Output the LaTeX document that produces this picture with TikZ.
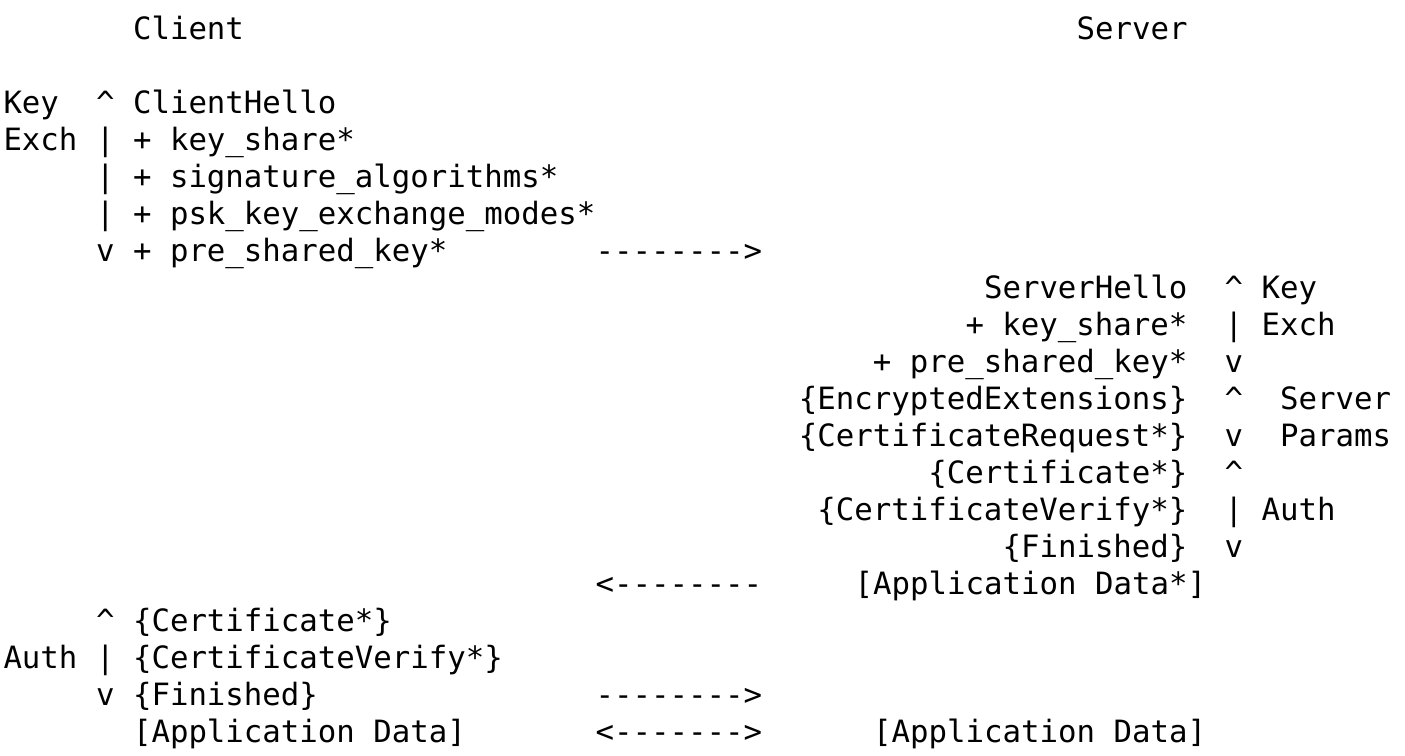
\documentclass[tikz,border=0pt]{standalone}
\usepackage{fontspec}
\setmonofont{DejaVu Sans Mono}
\begin{document}
\begin{tikzpicture}[
  x=18.5pt, y=-37pt,
  tt/.style={anchor=base west, inner sep=0pt, outer sep=0pt, text=black,
    font=\ttfamily\fontsize{30.73pt}{37pt}\selectfont},
  ttr/.style={tt, anchor=base east}]
\fill[white] (-3.5pt,39pt) rectangle (1401.5pt,-716pt);
\useasboundingbox (-3.5pt,39pt) rectangle (1401.5pt,-716pt);
% header
\node[tt] (client) at (7,0) {Client};
\node[tt] (server) at (58,0) {Server};
% client key exchange
\node[tt] (ckey) at (0,2) {Key};
\node[tt] (cka) at (5,2) {\textasciicircum};
\node[tt] (chello) at (7,2) {ClientHello};
\node[tt] (cexch) at (0,3) {Exch};
\node[tt] (ckb) at (5,3) {|};
\node[tt] (cks) at (7,3) {+ key\_share*};
\node[tt] (ckc) at (5,4) {|};
\node[tt] (csig) at (7,4) {+ signature\_algorithms*};
\node[tt] (ckd) at (5,5) {|};
\node[tt] (cpsk) at (7,5) {+ psk\_key\_exchange\_modes*};
\node[tt] (cke) at (5,6) {v};
\node[tt] (cpre) at (7,6) {+ pre\_shared\_key*};
\node[tt] (arr1) at (32,6) {-------->};
% server key exchange
\node[ttr] (shello) at (64,7) {ServerHello};
\node[tt] (ska) at (66,7) {\textasciicircum};
\node[tt] (skey) at (68,7) {Key};
\node[ttr] (sks) at (64,8) {+ key\_share*};
\node[tt] (skb) at (66,8) {|};
\node[tt] (sexch) at (68,8) {Exch};
\node[ttr] (spre) at (64,9) {+ pre\_shared\_key*};
\node[tt] (skc) at (66,9) {v};
% server params
\node[ttr] (senc) at (64,10) {\{EncryptedExtensions\}};
\node[tt] (spa) at (66,10) {\textasciicircum};
\node[tt] (sserv) at (69,10) {Server};
\node[ttr] (sreq) at (64,11) {\{CertificateRequest*\}};
\node[tt] (spb) at (66,11) {v};
\node[tt] (sparams) at (69,11) {Params};
% server auth
\node[ttr] (scert) at (64,12) {\{Certificate*\}};
\node[tt] (saa) at (66,12) {\textasciicircum};
\node[ttr] (sver) at (64,13) {\{CertificateVerify*\}};
\node[tt] (sab) at (66,13) {|};
\node[tt] (sauth) at (68,13) {Auth};
\node[ttr] (sfin) at (64,14) {\{Finished\}};
\node[tt] (sac) at (66,14) {v};
\node[tt] (arr2) at (32,15) {<--------};
\node[tt] (sapp1) at (46,15) {[Application Data*]};
% client auth
\node[tt] (caa) at (5,16) {\textasciicircum};
\node[tt] (ccert) at (7,16) {\{Certificate*\}};
\node[tt] (cauth) at (0,17) {Auth};
\node[tt] (cab) at (5,17) {|};
\node[tt] (cver) at (7,17) {\{CertificateVerify*\}};
\node[tt] (cac) at (5,18) {v};
\node[tt] (cfin) at (7,18) {\{Finished\}};
\node[tt] (arr3) at (32,18) {-------->};
% application data
\node[tt] (capp) at (7,19) {[Application Data]};
\node[tt] (arr4) at (32,19) {<------->};
\node[tt] (sapp2) at (47,19) {[Application Data]};
\end{tikzpicture}
\end{document}
